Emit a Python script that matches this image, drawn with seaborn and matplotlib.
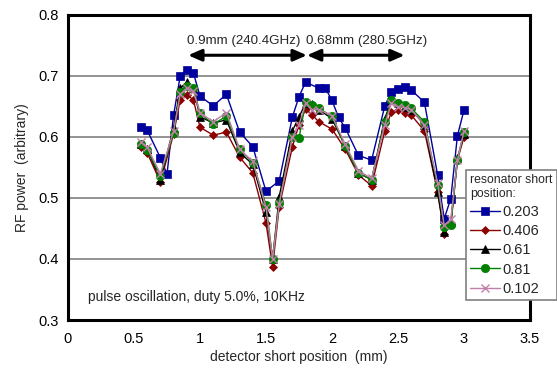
import numpy as np
import pandas as pd
import matplotlib
matplotlib.use("Agg")
import matplotlib.pyplot as plt
from matplotlib.ticker import FuncFormatter, MultipleLocator
import seaborn as sns

# ---- data ----
x_mm = [0.55, 0.6, 0.7, 0.75, 0.8, 0.85, 0.9, 0.95, 1.0, 1.1, 1.2, 1.3, 1.4, 1.5, 1.55,
        1.6, 1.7, 1.75, 1.8, 1.85, 1.9, 1.95, 2.0, 2.05, 2.1, 2.2, 2.3, 2.4, 2.45, 2.5,
        2.55, 2.6, 2.7, 2.8, 2.85, 2.9, 2.95, 3.0]
nan = np.nan
s_0203 = [0.616, 0.611, 0.566, 0.539, 0.636, 0.700, 0.710, 0.705, 0.667, 0.651, 0.670, 0.608, 0.584, 0.511, nan,
          0.528, 0.633, 0.666, 0.690, nan, 0.680, 0.680, 0.660, 0.632, 0.615, 0.570, 0.562, 0.651, 0.674, 0.678,
          0.682, 0.677, 0.657, 0.538, 0.466, 0.499, 0.602, 0.644]
s_0406 = [0.584, 0.574, 0.526, nan, 0.605, 0.661, 0.669, 0.661, 0.616, 0.603, 0.608, 0.567, 0.541, 0.459, 0.387,
          0.485, 0.584, 0.620, 0.646, 0.636, 0.625, nan, 0.613, nan, 0.580, 0.538, 0.520, 0.610, 0.641, 0.644,
          0.640, 0.636, 0.610, 0.510, 0.441, 0.457, 0.562, 0.600]
s_061 = [0.588, 0.580, 0.530, nan, 0.615, 0.680, 0.690, 0.680, 0.633, 0.623, 0.628, 0.575, 0.555, 0.477, 0.400,
         0.502, 0.610, 0.633, 0.655, 0.654, 0.645, nan, 0.630, nan, 0.585, 0.541, 0.530, 0.630, 0.660, 0.655,
         0.650, 0.645, 0.620, 0.510, 0.445, 0.460, 0.565, 0.605]
s_081 = [0.589, 0.579, 0.536, nan, 0.607, 0.674, 0.684, 0.680, 0.639, 0.621, 0.634, 0.580, 0.558, 0.489, 0.400,
         0.492, 0.600, 0.598, 0.657, 0.652, 0.647, nan, 0.634, nan, 0.585, 0.541, 0.530, 0.625, 0.661, 0.655,
         0.652, 0.647, 0.625, 0.521, 0.453, 0.455, 0.562, 0.608]
s_0102 = [0.592, 0.583, 0.540, nan, 0.610, 0.670, 0.680, 0.675, 0.640, 0.625, 0.640, 0.580, 0.560, 0.485, 0.400,
          0.490, 0.600, 0.620, 0.655, 0.645, 0.645, nan, 0.635, nan, 0.588, 0.545, 0.532, 0.620, 0.655, 0.650,
          0.648, 0.645, 0.620, 0.525, 0.455, 0.465, 0.562, 0.610]

series_names = ["0.203", "0.406", "0.61", "0.81", "0.102"]
series_vals = [s_0203, s_0406, s_061, s_081, s_0102]
colors = ["#00009C", "#8B0000", "#000000", "#008000", "#C07FA8"]
markers = ["s", "D", "^", "o", "x"]
msizes = [6, 4.5, 5.5, 6, 5.5]

rows = []
for name, vals in zip(series_names, series_vals):
    for xv, yv in zip(x_mm, vals):
        rows.append({"x": xv, "y": yv, "series": name})
df = pd.DataFrame(rows).dropna()

# ---- figure ----
sns.set_style("white")
plt.rcParams["font.family"] = ["Liberation Sans", "DejaVu Sans"]

fig = plt.figure(figsize=(5.57, 3.74), dpi=100)
ax = fig.add_axes([68 / 557, 1 - 320 / 374, (530 - 68) / 557, (320 - 15) / 374])

for name, c, m, ms in zip(series_names, colors, markers, msizes):
    sub = df[df["series"] == name]
    sns.lineplot(data=sub, x="x", y="y", ax=ax, color=c, marker=m, markersize=ms,
                 markeredgecolor=c, markeredgewidth=1.0 if m == "x" else 0.5,
                 linewidth=1.0, label=name, sort=False, estimator=None)

ax.set_xlim(0, 3.5)
ax.set_ylim(0.3, 0.8)
ax.xaxis.set_major_locator(MultipleLocator(0.5))
ax.yaxis.set_major_locator(MultipleLocator(0.1))
ax.xaxis.set_major_formatter(FuncFormatter(lambda v, p: f"{v:g}"))
ax.yaxis.set_major_formatter(FuncFormatter(lambda v, p: f"{v:.1f}"))

for yv in [0.4, 0.5, 0.6, 0.7]:
    ax.axhline(yv, color="#808080", linewidth=1.2, zorder=0)

for sp in ax.spines.values():
    sp.set_linewidth(2.2)
    sp.set_color("black")

ax.tick_params(axis="both", direction="inout", length=5, width=1, color="black",
               labelsize=10.5, labelcolor="black", pad=4)
ax.tick_params(axis="x", pad=6)

ax.set_xlabel("detector short position  (mm)", fontsize=10, labelpad=3)
ax.set_ylabel("RF power  (arbitrary)", fontsize=10, labelpad=7)

# annotations
arrow_kw = dict(arrowstyle="<|-|>,head_length=0.8,head_width=0.35", color="black", lw=2.2,
                shrinkA=0, shrinkB=0)
ax.annotate("", xy=(0.91, 0.734), xytext=(1.81, 0.734), arrowprops=arrow_kw)
ax.annotate("", xy=(1.81, 0.734), xytext=(2.55, 0.734), arrowprops=arrow_kw)
ax.text(1.33, 0.757, "0.9mm (240.4GHz)", fontsize=9.6, ha="center", va="center")
ax.text(2.26, 0.757, "0.68mm (280.5GHz)", fontsize=9.6, ha="center", va="center")
ax.text(0.155, 0.338, "pulse oscillation, duty 5.0%, 10KHz", fontsize=10, ha="left", va="center")

leg = ax.legend(title="resonator short\nposition:", loc="upper left",
                bbox_to_anchor=(466 / 557, 1 - 170 / 374), bbox_transform=fig.transFigure,
                fontsize=10.5, title_fontsize=8.8, frameon=True, fancybox=False,
                edgecolor="#808080", framealpha=1, borderpad=0.3, labelspacing=0.35,
                handlelength=2.0, handletextpad=0.2, borderaxespad=0, alignment="left")
leg.get_frame().set_linewidth(1.2)

fig.savefig("out.png", dpi=100)
